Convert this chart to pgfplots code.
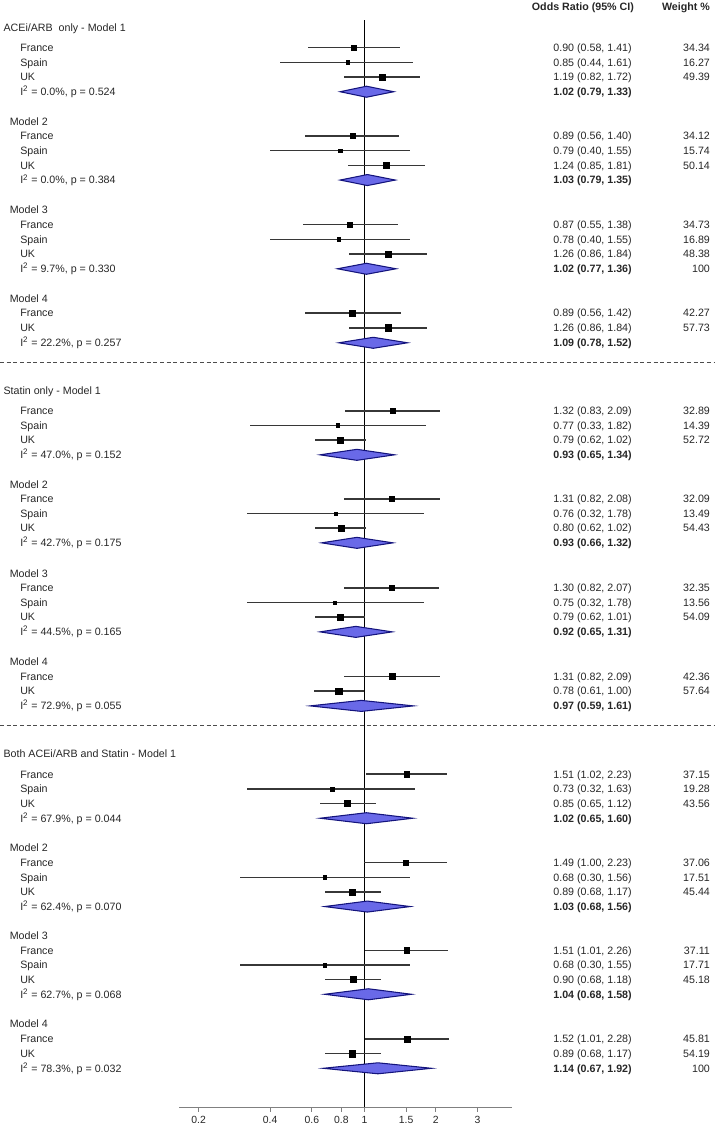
\documentclass[border=0pt]{standalone}
\usepackage{pgfplots}
\pgfplotsset{compat=1.18}
\usepackage{pgfplotstable}
\usepackage{fontspec}
\setmainfont{Liberation Sans}
\definecolor{diafill}{RGB}{105,105,232}
\definecolor{diadraw}{RGB}{20,20,125}
\definecolor{cigray}{RGB}{55,55,55}
\newcommand\lbl{\fontsize{8}{9.6}\selectfont}
\tikzset{txt/.style={anchor=base west,inner sep=0pt,yshift=-2.85pt,font=\lbl,text=black!85}}
% study-level estimates: y position (px from top), OR, lower, upper, weight
\pgfplotstableread{
y est lo hi w
47.7 0.90 0.58 1.41 34.34
62.3 0.85 0.44 1.61 16.27
77.0 1.19 0.82 1.72 49.39
136.0 0.89 0.56 1.40 34.12
150.7 0.79 0.40 1.55 15.74
165.3 1.24 0.85 1.81 50.14
224.3 0.87 0.55 1.38 34.73
239.3 0.78 0.40 1.55 16.89
254.0 1.26 0.86 1.84 48.38
313.0 0.89 0.56 1.42 42.27
327.7 1.26 0.86 1.84 57.73
410.7 1.32 0.83 2.09 32.89
425.3 0.77 0.33 1.82 14.39
440.0 0.79 0.62 1.02 52.72
498.7 1.31 0.82 2.08 32.09
513.3 0.76 0.32 1.78 13.49
528.0 0.80 0.62 1.02 54.43
587.7 1.30 0.82 2.07 32.35
602.3 0.75 0.32 1.78 13.56
617.0 0.79 0.62 1.01 54.09
676.3 1.31 0.82 2.09 42.36
691.0 0.78 0.61 1.00 57.64
774.0 1.51 1.02 2.23 37.15
788.7 0.73 0.32 1.63 19.28
803.3 0.85 0.65 1.12 43.56
862.3 1.49 1.00 2.23 37.06
877.0 0.68 0.30 1.56 17.51
891.7 0.89 0.68 1.17 45.44
950.0 1.51 1.01 2.26 37.11
964.7 0.68 0.30 1.55 17.71
979.3 0.90 0.68 1.18 45.18
1038.7 1.52 1.01 2.28 45.81
1053.3 0.89 0.68 1.17 54.19
}\studies
\newcommand\dia[4]{% y est lo hi
  \pgfmathsetmacro\ya{#1-5.5}\pgfmathsetmacro\yb{#1+5.5}%
  \edef\tmp{\noexpand\addplot[fill=diafill,draw=diadraw,line width=0.8pt] coordinates {(#3,#1) (#2,\ya) (#4,#1) (#2,\yb)} -- cycle;}\tmp}
\newcommand\srow[4]{%
  \node[txt] at (axis cs:0.03526,#1) {#2};
  \node[txt] at (axis cs:6.254,#1) {#3};
  \node[txt,anchor=base east] at (axis cs:28.74,#1) {#4};}
\newcommand\prow[4]{%
  \node[txt] at (axis cs:0.03526,#1) {I\textsuperscript{2} = #2};
  \node[txt] at (axis cs:6.254,#1) {\textbf{#3}};
  \node[txt,anchor=base east] at (axis cs:28.74,#1) {#4};}
\newcommand\ttl[2]{\node[txt] at (axis cs:0.02998,#1) {#2};}
\newcommand\mdl[2]{\node[txt] at (axis cs:0.03184,#1) {#2};}
\begin{document}
\begin{tikzpicture}
\useasboundingbox (0,-14.25pt) rectangle (536.25pt,830.025pt);
\begin{axis}[
  at={(0,0)}, anchor=south west,
  scale only axis, width=536.25pt, height=830.025pt,
  xmode=log, xmin=0.02903, xmax=30.18,
  ymin=0, ymax=1106.7, y dir=reverse,
  axis line style={draw=none},
  ytick=\empty,
  xtick={0.2,0.4,0.6,0.8,1,1.5,2,3},
  xticklabels={0.2,0.4,0.6,0.8,1,1.5,2,3},
  xminorticks=false,
  xtick pos=bottom, tick align=outside, major tick length=3.5pt,
  x tick style={gray, line width=0.6pt},
  x tick label style={font=\fontsize{7.8}{9}\selectfont, text=black!85},
  clip=false,
]
% axis line, reference line, separators
\addplot[gray, line width=0.6pt] coordinates {(0.1657,1106.7) (4.187,1106.7)};
\addplot[black, line width=0.6pt] coordinates {(1,20) (1,1106.7)};
\addplot[black!70, line width=0.7pt, dash pattern=on 3pt off 2pt] coordinates {(0.02903,362.7) (30.18,362.7)};
\addplot[black!70, line width=0.7pt, dash pattern=on 3pt off 2pt] coordinates {(0.02903,725) (30.18,725)};
% confidence intervals
\addplot[draw=none, mark=none, forget plot,
  error bars/.cd, x dir=both, x explicit, error mark=none,
  error bar style={cigray, line width=1.1pt}]
  table[x=est, y=y, x error plus expr=\thisrow{hi}-\thisrow{est}, x error minus expr=\thisrow{est}-\thisrow{lo}] {\studies};
% squares
\addplot[scatter, only marks, mark=square*,
  scatter/use mapped color={draw=black, fill=black},
  visualization depends on={0.33*sqrt(\thisrow{w}) \as \msz},
  scatter/@pre marker code/.append style={/tikz/mark size=\msz}]
  table[x=est, y=y] {\studies};
% pooled diamonds
\dia{91.7}{1.02}{0.79}{1.33}
\dia{180.0}{1.03}{0.79}{1.35}
\dia{268.7}{1.02}{0.77}{1.36}
\dia{342.7}{1.09}{0.78}{1.52}
\dia{454.7}{0.93}{0.65}{1.34}
\dia{542.7}{0.93}{0.66}{1.32}
\dia{631.7}{0.92}{0.65}{1.31}
\dia{705.7}{0.97}{0.59}{1.61}
\dia{818.0}{1.02}{0.65}{1.60}
\dia{906.3}{1.03}{0.68}{1.56}
\dia{994.0}{1.04}{0.68}{1.58}
\dia{1068.0}{1.14}{0.67}{1.92}
% header
\node[txt,anchor=base east] at (axis cs:13.74,7) {\textbf{Odds Ratio (95\% CI)}};
\node[txt,anchor=base east] at (axis cs:28.74,7) {\textbf{Weight \%}};
% ACEi/ARB only
\ttl{27.3}{ACEi/ARB\ \ only - Model 1}
\srow{47.7}{France}{0.90 (0.58, 1.41)}{34.34}
\srow{62.3}{Spain}{0.85 (0.44, 1.61)}{16.27}
\srow{77.0}{UK}{1.19 (0.82, 1.72)}{49.39}
\prow{91.7}{0.0\%, p = 0.524}{1.02 (0.79, 1.33)}{}
\mdl{121.7}{Model 2}
\srow{136.0}{France}{0.89 (0.56, 1.40)}{34.12}
\srow{150.7}{Spain}{0.79 (0.40, 1.55)}{15.74}
\srow{165.3}{UK}{1.24 (0.85, 1.81)}{50.14}
\prow{180.0}{0.0\%, p = 0.384}{1.03 (0.79, 1.35)}{}
\mdl{210.0}{Model 3}
\srow{224.3}{France}{0.87 (0.55, 1.38)}{34.73}
\srow{239.3}{Spain}{0.78 (0.40, 1.55)}{16.89}
\srow{254.0}{UK}{1.26 (0.86, 1.84)}{48.38}
\prow{268.7}{9.7\%, p = 0.330}{1.02 (0.77, 1.36)}{100}
\mdl{298.3}{Model 4}
\srow{313.0}{France}{0.89 (0.56, 1.42)}{42.27}
\srow{327.7}{UK}{1.26 (0.86, 1.84)}{57.73}
\prow{342.7}{22.2\%, p = 0.257}{1.09 (0.78, 1.52)}{}
% Statin only
\ttl{390.3}{Statin only - Model 1}
\srow{410.7}{France}{1.32 (0.83, 2.09)}{32.89}
\srow{425.3}{Spain}{0.77 (0.33, 1.82)}{14.39}
\srow{440.0}{UK}{0.79 (0.62, 1.02)}{52.72}
\prow{454.7}{47.0\%, p = 0.152}{0.93 (0.65, 1.34)}{}
\mdl{484.7}{Model 2}
\srow{498.7}{France}{1.31 (0.82, 2.08)}{32.09}
\srow{513.3}{Spain}{0.76 (0.32, 1.78)}{13.49}
\srow{528.0}{UK}{0.80 (0.62, 1.02)}{54.43}
\prow{542.7}{42.7\%, p = 0.175}{0.93 (0.66, 1.32)}{}
\mdl{573.3}{Model 3}
\srow{587.7}{France}{1.30 (0.82, 2.07)}{32.35}
\srow{602.3}{Spain}{0.75 (0.32, 1.78)}{13.56}
\srow{617.0}{UK}{0.79 (0.62, 1.01)}{54.09}
\prow{631.7}{44.5\%, p = 0.165}{0.92 (0.65, 1.31)}{}
\mdl{661.7}{Model 4}
\srow{676.3}{France}{1.31 (0.82, 2.09)}{42.36}
\srow{691.0}{UK}{0.78 (0.61, 1.00)}{57.64}
\prow{705.7}{72.9\%, p = 0.055}{0.97 (0.59, 1.61)}{}
% Both
\ttl{753.5}{Both ACEi/ARB and Statin - Model 1}
\srow{774.0}{France}{1.51 (1.02, 2.23)}{37.15}
\srow{788.7}{Spain}{0.73 (0.32, 1.63)}{19.28}
\srow{803.3}{UK}{0.85 (0.65, 1.12)}{43.56}
\prow{818.0}{67.9\%, p = 0.044}{1.02 (0.65, 1.60)}{}
\mdl{847.7}{Model 2}
\srow{862.3}{France}{1.49 (1.00, 2.23)}{37.06}
\srow{877.0}{Spain}{0.68 (0.30, 1.56)}{17.51}
\srow{891.7}{UK}{0.89 (0.68, 1.17)}{45.44}
\prow{906.3}{62.4\%, p = 0.070}{1.03 (0.68, 1.56)}{}
\mdl{935.7}{Model 3}
\srow{950.0}{France}{1.51 (1.01, 2.26)}{37.11}
\srow{964.7}{Spain}{0.68 (0.30, 1.55)}{17.71}
\srow{979.3}{UK}{0.90 (0.68, 1.18)}{45.18}
\prow{994.0}{62.7\%, p = 0.068}{1.04 (0.68, 1.58)}{}
\mdl{1023.3}{Model 4}
\srow{1038.7}{France}{1.52 (1.01, 2.28)}{45.81}
\srow{1053.3}{UK}{0.89 (0.68, 1.17)}{54.19}
\prow{1068.0}{78.3\%, p = 0.032}{1.14 (0.67, 1.92)}{100}
\end{axis}
\end{tikzpicture}
\end{document}
